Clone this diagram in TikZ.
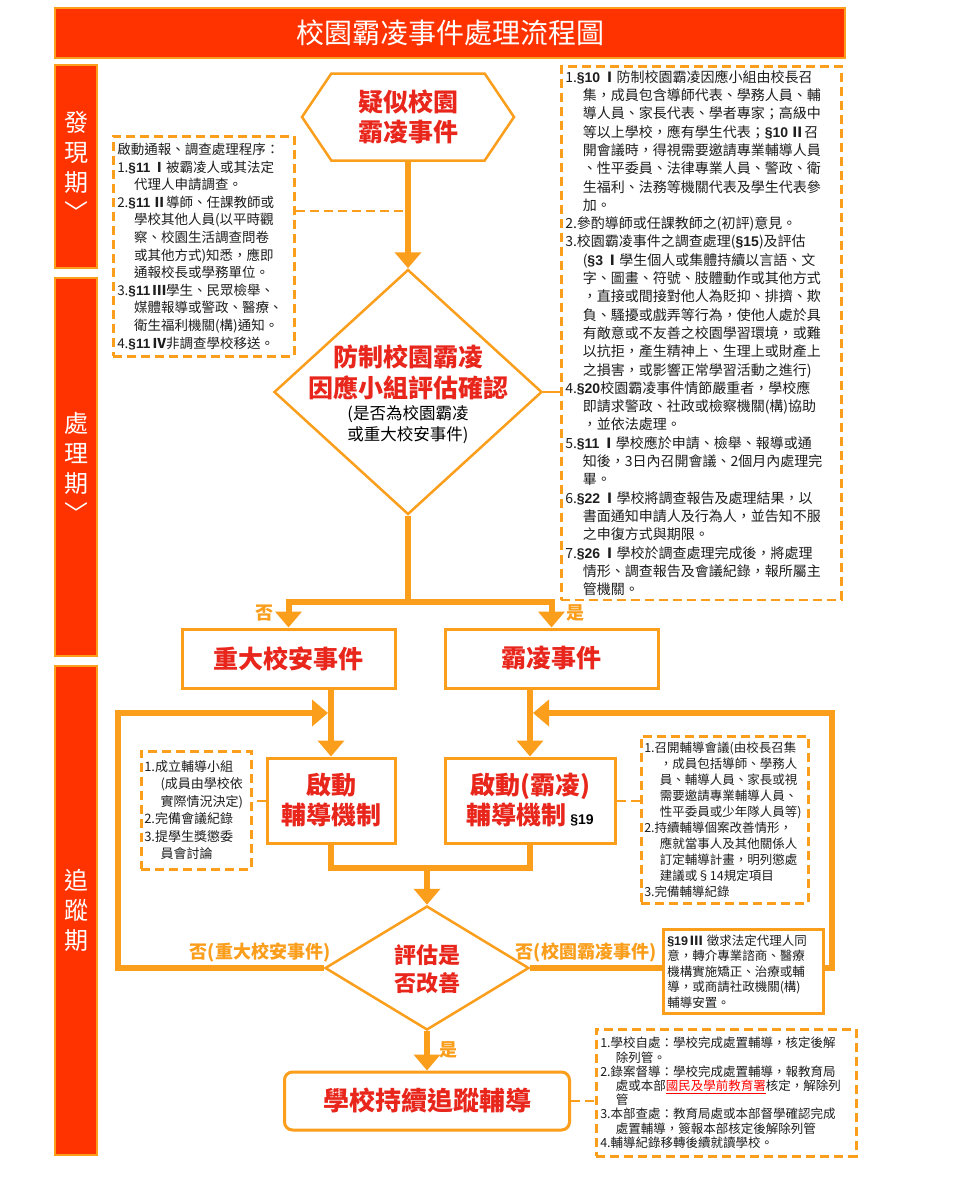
\documentclass[tikz,border=0pt]{standalone}
\usepackage{fontspec}
\setmainfont{Noto Sans CJK TC}
\newfontfamily\arial{Liberation Sans}
\usepackage{xcolor}
\usetikzlibrary{arrows.meta, positioning, shapes.geometric, shapes.symbols, calc}

\definecolor{barred}{RGB}{255,51,0}
\definecolor{lineorange}{RGB}{250,158,28}
\definecolor{textred}{RGB}{232,38,28}
\definecolor{notetext}{RGB}{30,30,30}

\newcommand{\fsz}[2]{\fontsize{#1}{#2}\selectfont}
\newcommand{\art}[2]{{\arial\bfseries §#1}\,{\bfseries #2}}
\newcommand{\ind}{\hspace*{1.25em}}

\tikzset{
  phasebar/.style={draw=lineorange, line width=2pt, fill=barred, text=white, align=center, inner sep=0pt},
  evtbox/.style={draw=lineorange, line width=3pt, fill=white, text=textred, align=center,
    font=\fsz{25}{30}\bfseries, inner sep=0pt},
  judge/.style={diamond, draw=lineorange, line width=2.5pt, fill=white, inner sep=0pt},
  notebox/.style={draw=lineorange, line width=2.5pt, dash pattern=on 9pt off 5pt, fill=white,
    text=notetext, align=left, inner sep=4pt, anchor=north west},
  flowline/.style={draw=lineorange, line width=6pt},
  flowarrow/.style={flowline, -{Triangle[length=16pt,width=26pt]}},
  link/.style={draw=lineorange, line width=2pt, dash pattern=on 9pt off 5pt},
  answer/.style={text=lineorange, font=\fsz{18}{20}\bfseries, inner sep=0pt},
}

\begin{document}
\begin{tikzpicture}[x=1pt, y=-1pt]
  \useasboundingbox (0,0) rectangle (964,1200);
  \fill[white] (0,0) rectangle (964,1200);

  % title and the three phases on the left
  \node[phasebar, minimum width=790pt, minimum height=50pt, font=\fsz{28}{30}] (title) at (450,33) {校園霸凌事件處理流程圖};
  \node[phasebar, minimum width=42pt, minimum height=203pt, font=\fsz{24}{30}] (phFind) at (76,166.5) {發\\現\\期\\﹀};
  \node[phasebar, minimum width=42pt, minimum height=378pt, font=\fsz{24}{30}] (phHandle) at (76,467) {處\\理\\期\\﹀};
  \node[phasebar, minimum width=42pt, minimum height=489pt, font=\fsz{24}{30}] (phTrack) at (76,910.5) {追\\蹤\\期};

  % main flow
  \node[signal, signal to=west and east, signal pointer angle=112, draw=lineorange, line width=2.5pt,
    fill=white, text=textred, font=\fsz{25}{30}\bfseries, align=center, inner sep=0pt,
    minimum width=212pt, minimum height=87pt] (suspect) at (408,117) {疑似校園\\霸凌事件};
  \node[judge, minimum width=268pt, minimum height=245pt] (assess) at (408,392) {};
  \node[text=textred, font=\fsz{25}{31}\bfseries, align=center, inner sep=0pt] (assessTitle) at (408,372) {防制校園霸凌\\因應小組評估確認};
  \node[text=black, font=\fsz{16.5}{21}, align=center, inner sep=0pt] (assessNote) at (408,425) {(是否為校園霸凌\\或重大校安事件)};

  \node[evtbox, minimum width=213pt, minimum height=59pt] (major) at (288.5,658.5) {重大校安事件};
  \node[evtbox, minimum width=213pt, minimum height=59pt] (bully) at (551.5,658.5) {霸凌事件};
  \node[evtbox, minimum width=128pt, minimum height=85pt] (startA) at (331,800.5) {啟動\\輔導機制};
  \node[evtbox, minimum width=170pt, minimum height=85pt] (startB) at (530,800.5)
    {啟動(霸凌)\\輔導機制\,{\color{black}\arial\fsz{14}{14}\bfseries §19}};

  \node[judge, minimum width=204pt, minimum height=124pt] (review) at (427,968) {};
  \node[text=textred, font=\fsz{22}{28}\bfseries, align=center, inner sep=0pt] (reviewText) at (427,969) {評估是\\否改善};
  \node[evtbox, rounded corners=8pt, minimum width=285pt, minimum height=58pt, font=\fsz{26}{30}\bfseries] (track) at (427,1101) {學校持續追蹤輔導};

  % connectors
  \draw[flowarrow] (suspect.south) -- (assess.north);
  \coordinate (fork) at (408,602);
  \draw[flowline] (assess.south) -- (fork);
  \draw[flowarrow] (fork) -| (major.north);
  \draw[flowarrow] (fork) -| (bully.north);
  \draw[flowarrow] (major.south -| startA.north) -- (startA.north);
  \draw[flowarrow] (bully.south -| startB.north) -- (startB.north);
  \coordinate (join) at (427,868);
  \draw[flowline] (startA.south) |- (startB.south |- join) -- (startB.south);
  \draw[flowarrow] (join) -- (review.north);
  \draw[flowarrow] (review.south) -- (track.north);

  % loops back when not improved
  \coordinate (loopL) at (118,713);
  \coordinate (loopR) at (832,713);
  \coordinate (backA) at ($(startA.north |- loopL)+(-3,0)$);
  \coordinate (backB) at ($(startB.north |- loopR)+(3,0)$);
  \draw[flowarrow] (review.west) -| (loopL) -- (backA);
  \draw[flowarrow] (review.east) -| (loopR) -- (backB);

  \node[answer] (noA) at (264,613) {否};
  \node[answer] (yesA) at (575,613) {是};
  \node[answer] (noMajor) at (260,953) {否(重大校安事件)};
  \node[answer] (noBully) at (586,953) {否(校園霸凌事件)};
  \node[answer] (yesEnd) at (448,1050) {是};

  % notes
  \node[notebox, text width=173pt, minimum height=220pt, font=\fsz{13.5}{17.6}] (detectNote) at (112,135) {%
啟動通報、調查處理程序：\\
1.\art{11}{Ⅰ}被霸凌人或其法定\\
\ind 代理人申請調查。\\
2.\art{11}{Ⅱ}導師、任課教師或\\
\ind 學校其他人員(以平時觀\\
\ind 察、校園生活調查問卷\\
\ind 或其他方式)知悉，應即\\
\ind 通報校長或學務單位。\\
3.\art{11}{Ⅲ}學生、民眾檢舉、\\
\ind 媒體報導或警政、醫療、\\
\ind 衛生福利機關(構)通知。\\
4.\art{11}{Ⅳ}非調查學校移送。};

  \node[notebox, text width=272pt, minimum height=525pt, font=\fsz{14}{18.3}] (teamNote) at (560,65) {%
1.\art{10}{Ⅰ}防制校園霸凌因應小組由校長召\\
\ind 集，成員包含導師代表、學務人員、輔\\
\ind 導人員、家長代表、學者專家；高級中\\
\ind 等以上學校，應有學生代表；\art{10}{Ⅱ}召\\
\ind 開會議時，得視需要邀請專業輔導人員\\
\ind 、性平委員、法律專業人員、警政、衛\\
\ind 生福利、法務等機關代表及學生代表參\\
\ind 加。\\
2.參酌導師或任課教師之(初評)意見。\\
3.校園霸凌事件之調查處理({\arial\bfseries §15})及評估\\
\ind (\art{3}{Ⅰ}學生個人或集體持續以言語、文\\
\ind 字、圖畫、符號、肢體動作或其他方式\\
\ind ，直接或間接對他人為貶抑、排擠、欺\\
\ind 負、騷擾或戲弄等行為，使他人處於具\\
\ind 有敵意或不友善之校園學習環境，或難\\
\ind 以抗拒，產生精神上、生理上或財產上\\
\ind 之損害，或影響正常學習活動之進行)\\
4.{\arial\bfseries §20}校園霸凌事件情節嚴重者，學校應\\
\ind 即請求警政、社政或檢察機關(構)協助\\
\ind ，並依法處理。\\
5.\art{11}{Ⅰ}學校應於申請、檢舉、報導或通\\
\ind 知後，3日內召開會議、2個月內處理完\\
\ind 畢。\\
6.\art{22}{Ⅰ}學校將調查報告及處理結果，以\\
\ind 書面通知申請人及行為人，並告知不服\\
\ind 之申復方式與期限。\\
7.\art{26}{Ⅰ}學校於調查處理完成後，將處理\\
\ind 情形、調查報告及會議紀錄，報所屬主\\
\ind 管機關。};

  \node[notebox, text width=104pt, inner sep=3pt, minimum height=118pt, font=\fsz{13}{17.5}] (supportNote) at (140,750) {%
1.成立輔導小組\\
\ind (成員由學校依\\
\ind 實際情況決定)\\
2.完備會議紀錄\\
3.提學生獎懲委\\
\ind 員會討論};

  \node[notebox, text width=161pt, inner sep=3pt, minimum height=167pt, font=\fsz{12.5}{16}] (bullyNote) at (640,735) {%
1.召開輔導會議(由校長召集\\
\ind ，成員包括導師、學務人\\
\ind 員、輔導人員、家長或視\\
\ind 需要邀請專業輔導人員、\\
\ind 性平委員或少年隊人員等)\\
2.持續輔導個案改善情形，\\
\ind 應就當事人及其他關係人\\
\ind 訂定輔導計畫，明列懲處\\
\ind 建議或§14規定項目\\
3.完備輔導紀錄};

  \node[notebox, solid, text width=152pt, minimum height=84pt, font=\fsz{12.5}{15.5}] (referNote) at (662,928) {%
\art{19}{Ⅲ} 徵求法定代理人同\\
意，轉介專業諮商、醫療\\
機構實施矯正、治療或輔\\
導，或商請社政機關(構)\\
輔導安置。};

  \node[notebox, text width=252pt, minimum height=127pt, font=\fsz{12.5}{14.2}] (caseNote) at (595,1028) {%
1.學校自處：學校完成處置輔導，核定後解\\
\ind 除列管。\\
2.錄案督導：學校完成處置輔導，報教育局\\
\ind 處或本部{\color{red}\underline{國民及學前教育署}}核定，解除列\\
\ind 管\\
3.本部查處：教育局處或本部督學確認完成\\
\ind 處置輔導，簽報本部核定後解除列管\\
4.輔導紀錄移轉後續就讀學校。};

  % note links
  \coordinate (tapFind) at (408,211);
  \draw[link] (tapFind -| detectNote.east) -- (tapFind);
  \draw[draw=lineorange, line width=1.5pt] (assess.east) -- (assess.east -| teamNote.west);
  \draw[link] (startA.west) -- (startA.west -| supportNote.east);
  \draw[link] (startB.east) -- (startB.east -| bullyNote.west);
  \draw[link] (track.east) -- (track.east -| caseNote.west);
\end{tikzpicture}
\end{document}
